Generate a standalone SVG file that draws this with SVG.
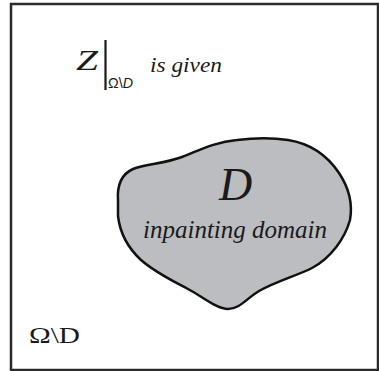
<svg xmlns="http://www.w3.org/2000/svg" width="379" height="371" viewBox="0 0 379 371">
<style>
.serif{font-family:"Liberation Serif","Times New Roman",serif;fill:#1a1a1a}
.it{font-style:italic}
.sans{font-family:"Liberation Sans",Arial,sans-serif;fill:#1a1a1a}
</style>
<rect width="379" height="371" fill="#ffffff"/>
<g id="frame">
<rect x="11" y="4" width="367" height="366" fill="none" stroke="#2b2b2b" stroke-width="2.5"/>
</g>
<g id="given-label">
<text class="serif it" x="76" y="70" font-size="29" textLength="22" lengthAdjust="spacingAndGlyphs">Z</text>
<line x1="105.5" y1="40" x2="105.5" y2="90" stroke="#1a1a1a" stroke-width="2.2"/>
<text class="sans" x="108" y="88" font-size="14" textLength="25" lengthAdjust="spacingAndGlyphs">Ω\<tspan font-style="italic">D</tspan></text>
<text class="serif it" x="150" y="72" font-size="22" textLength="72" lengthAdjust="spacingAndGlyphs">is given</text>
</g>
<g id="domain">
<path d="M 118,200 C 117,185 122,174 133,169 C 146,164 163,164 182,157 C 198,151 214,142 237,140 C 254,138 274,138 288,140 C 307,143 325,152 339,173 C 349,188 353,203 350,220 C 345,238 331,258 312,268 C 296,276 277,281 259,291 C 247,298 240,309 228,309 C 217,309 203,297 188,289 C 173,281 156,273 141,260 C 128,248 120,233 118,216 Z" fill="#bcbdc0" stroke="#111111" stroke-width="2.5" stroke-linejoin="round"/>
<text class="serif it" x="219" y="200" font-size="46">D</text>
<text class="serif it" x="143" y="238" font-size="25" textLength="184" lengthAdjust="spacingAndGlyphs">inpainting domain</text>
</g>
<g id="complement-label">
<text class="serif" x="29" y="343" font-size="24" textLength="51" lengthAdjust="spacingAndGlyphs">Ω\D</text>
</g>
<g id="connectors"/>
</svg>
